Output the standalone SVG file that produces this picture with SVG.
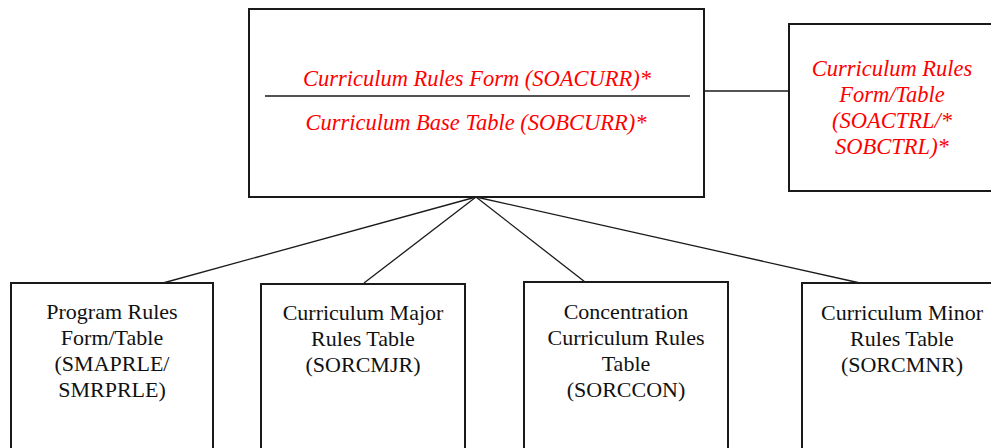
<svg xmlns="http://www.w3.org/2000/svg" width="991" height="448" viewBox="0 0 991 448">
  <style>
    .box { fill: #ffffff; stroke: #1a1a1a; stroke-width: 2; }
    .link { stroke: #1a1a1a; stroke-width: 1.3; fill: none; }
    .red { font-family: 'Liberation Serif', 'DejaVu Serif', serif; font-style: italic; font-size: 22.5px; fill: #ff0000; text-anchor: middle; }
    .blk { font-family: 'Liberation Serif', 'DejaVu Serif', serif; font-size: 22px; fill: #111111; text-anchor: middle; }
  </style>
  <rect width="991" height="448" fill="#ffffff"/>

  <!-- connectors -->
  <g id="connectors">
    <line class="link" x1="704" y1="91" x2="789" y2="91"/>
    <line class="link" x1="476" y1="197" x2="163" y2="283"/>
    <line class="link" x1="476" y1="197" x2="364" y2="283"/>
    <line class="link" x1="476" y1="197" x2="585" y2="282"/>
    <line class="link" x1="476" y1="197" x2="860" y2="283"/>
  </g>

  <!-- curriculum rules form / base table -->
  <g id="soacurr">
    <rect class="box" x="249" y="9" width="455" height="188"/>
    <line class="link" x1="265" y1="96" x2="690" y2="96" stroke-width="1.5"/>
    <text class="red" x="477" y="86">Curriculum Rules Form (SOACURR)*</text>
    <text class="red" x="476" y="130">Curriculum Base Table (SOBCURR)*</text>
  </g>

  <!-- control form/table -->
  <g id="soactrl">
    <rect class="box" x="789" y="24" width="210" height="167"/>
    <text class="red" x="892" y="76">Curriculum Rules</text>
    <text class="red" x="892" y="102">Form/Table</text>
    <text class="red" x="892" y="128">(SOACTRL/*</text>
    <text class="red" x="892" y="154">SOBCTRL)*</text>
  </g>

  <!-- program rules -->
  <g id="smaprle">
    <rect class="box" x="11" y="283" width="202" height="180"/>
    <text class="blk" x="112" y="319">Program Rules</text>
    <text class="blk" x="112" y="345">Form/Table</text>
    <text class="blk" x="112" y="371">(SMAPRLE/</text>
    <text class="blk" x="112" y="397">SMRPRLE)</text>
  </g>

  <!-- curriculum major rules -->
  <g id="sorcmjr">
    <rect class="box" x="261" y="284" width="204" height="180"/>
    <text class="blk" x="363" y="320">Curriculum Major</text>
    <text class="blk" x="363" y="346">Rules Table</text>
    <text class="blk" x="363" y="372">(SORCMJR)</text>
  </g>

  <!-- concentration curriculum rules -->
  <g id="sorccon">
    <rect class="box" x="524" y="282" width="204" height="180"/>
    <text class="blk" x="626" y="319">Concentration</text>
    <text class="blk" x="626" y="345">Curriculum Rules</text>
    <text class="blk" x="626" y="371">Table</text>
    <text class="blk" x="626" y="397">(SORCCON)</text>
  </g>

  <!-- curriculum minor rules -->
  <g id="sorcmnr">
    <rect class="box" x="802" y="283" width="210" height="180"/>
    <text class="blk" x="902" y="320">Curriculum Minor</text>
    <text class="blk" x="902" y="346">Rules Table</text>
    <text class="blk" x="902" y="372">(SORCMNR)</text>
  </g>
</svg>
